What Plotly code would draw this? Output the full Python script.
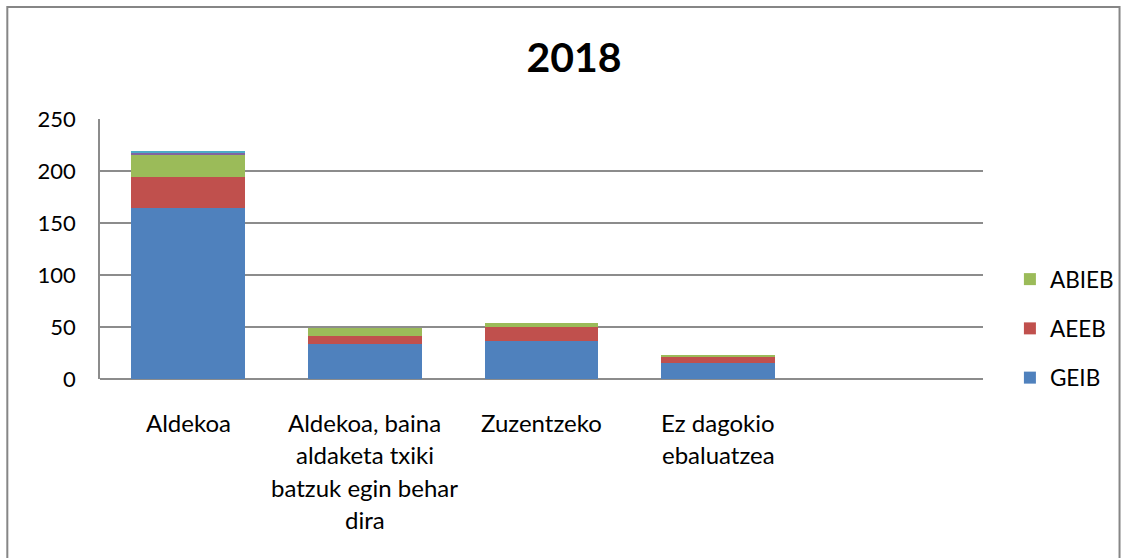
import plotly.graph_objects as go

categories = ["Aldekoa", "Aldekoa, baina<br>aldaketa txiki<br>batzuk egin behar<br>dira", "Zuzentzeko", "Ez dagokio<br>ebaluatzea", " "]
geib = [164, 34, 37, 15, None]
aeeb = [30, 7, 13, 6, None]
abieb = [22, 8, 4, 2, None]
extra1 = [1, 0, 0, 0, None]
extra2 = [2, 0, 0, 0, None]
y_ticks = [0, 50, 100, 150, 200, 250]
title_text = "2018"

FONT = "Lato, Carlito, Calibri, sans-serif"
W, H = 1131, 558
L, R, T, B = 100, 145, 119, 179
PW, PH = W - L - R, H - T - B

fig = go.Figure()
series = [
    ("GEIB", geib, "#4F81BD", True, 3),
    ("AEEB", aeeb, "#C0504D", True, 2),
    ("ABIEB", abieb, "#9BBB59", True, 1),
    ("Beste1", extra1, "#8064A2", False, 4),
    ("Beste2", extra2, "#4BACC6", False, 5),
]
for name, vals, col, show, rank in series:
    fig.add_trace(go.Bar(
        x=categories, y=vals, name=name, marker=dict(color=col, line=dict(width=0)),
        showlegend=show, legendgroup=name, legendrank=rank,
    ))

# category labels as multi-line annotations
for c in categories:
    lines = c.split("<br>")
    for i, ln in enumerate(lines):
        if not ln.strip():
            continue
        fig.add_annotation(x=c, y=0, xref="x", yref="y", text=ln, showarrow=False,
                           yanchor="middle", xanchor="center", yshift=-(43 + 32.5 * i),
                           font=dict(family=FONT, size=24, color="#000000"))

def px_x(p):
    return (p - L) / PW

def px_y(p):
    return (H - B - p) / PH

fig.add_shape(type="rect", xref="paper", yref="paper",
              x0=px_x(7), x1=px_x(1123), y0=px_y(575), y1=px_y(7),
              line=dict(color="#868686", width=2), fillcolor="rgba(0,0,0,0)", layer="below")

fig.update_layout(
    width=W, height=H,
    margin=dict(l=L, r=R, t=T, b=B),
    barmode="stack", bargap=0.355,
    paper_bgcolor="white", plot_bgcolor="white",
    title=dict(text="<b>" + title_text + "</b>", x=574 / W, xanchor="center",
               y=1 - 58 / H, yanchor="middle",
               font=dict(family=FONT, size=41, color="#000000")),
    font=dict(family=FONT, size=22, color="#000000"),
    legend=dict(x=px_x(1013), xanchor="left", y=px_y(258), yanchor="top",
                traceorder="grouped", tracegroupgap=17,
                font=dict(family=FONT, size=22.5, color="#000000"), bgcolor="rgba(0,0,0,0)"),
    xaxis=dict(showticklabels=False, showgrid=False, showline=False, ticks="",
               categoryorder="array", categoryarray=categories, fixedrange=True),
    yaxis=dict(range=[0, 250], tickvals=y_ticks, ticktext=[str(v) for v in y_ticks],
               showgrid=True, gridcolor="#8C8C8C", gridwidth=1.5,
               showline=True, linecolor="#8C8C8C", linewidth=1.5,
               zeroline=True, zerolinecolor="#8C8C8C", zerolinewidth=1.5,
               ticks="", ticklabelstandoff=18, tickfont=dict(family=FONT, size=22)),
)

fig.write_html("out.html", config={"displayModeBar": False},
               post_script="document.body.style.margin='0';document.body.style.overflow='hidden';")
